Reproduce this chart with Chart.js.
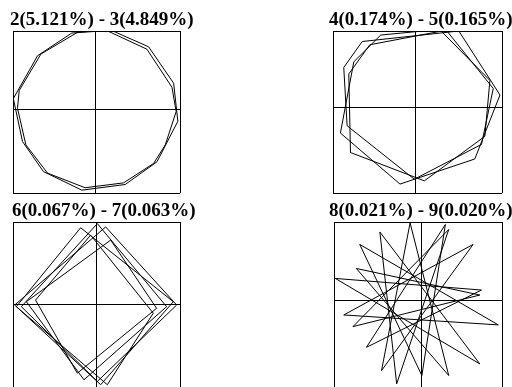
<!DOCTYPE html>
<html>
<head>
<meta charset="utf-8">
<script src="https://cdn.jsdelivr.net/npm/chart.js@4/dist/chart.umd.min.js"></script>
<style>
    html, body { margin: 0; padding: 0; background: #fff; overflow: hidden; }
    body { width: 512px; height: 387px; position: relative; }
    canvas { position: absolute; }
</style>
</head>
<body>
<canvas id="modos23" width="200" height="196" style="left:10px;top:0px"></canvas>
<canvas id="modos45" width="190" height="196" style="left:329px;top:0px"></canvas>
<canvas id="modos67" width="200" height="200" style="left:12px;top:191px"></canvas>
<canvas id="modos89" width="190" height="200" style="left:329px;top:191px"></canvas>
<script>
//TITULOS DE CADA PAR DE MODOS
var titulos = [
    '2(5.121%) - 3(4.849%)',
    '4(0.174%) - 5(0.165%)',
    '6(0.067%) - 7(0.063%)',
    '8(0.021%) - 9(0.020%)'
];

//coeficientes del par 2-3 (dos vueltas casi iguales)
var par23X = [-0.22, 0.17, 0.63, 0.93, 0.98, 0.73, 0.35, -0.17, -0.63, -0.88, -0.99, -0.70,
    -0.29, 0.13, 0.61, 0.91, 0.96, 0.83, 0.69, 0.33, -0.13, -0.58, -0.84, -0.94, -0.92, -0.66, -0.22];
var par23Y = [0.96, 0.99, 0.78, 0.33, -0.14, -0.64, -0.92, -0.99, -0.76, -0.39, 0.14, 0.67,
    0.95, 0.98, 0.75, 0.28, -0.02, -0.43, -0.66, -0.90, -0.96, -0.78, -0.43, 0.02, 0.24, 0.69, 0.96];

//coeficientes del par 4-5
var par45X = [-0.64, 0.51, 1.00, 0.70, -0.19, -0.90, -0.74,
    -0.42, 0.28, 0.88, 0.82, 0.10, -0.78, -0.80,
    -0.55, 0.36, 0.92, 0.78, -0.02, -0.82, -0.86, -0.64];
var par45Y = [0.82, 0.95, 0.16, -0.63, -0.94, -0.31, 0.57,
    0.90, 0.97, 0.34, -0.35, -0.90, -0.55, 0.42,
    0.78, 0.96, 0.24, -0.45, -0.88, -0.22, 0.50, 0.82];

//coeficientes del par 6-7 (cuadrados girando)
var par67X = [-0.19, 0.92, 0.05, -0.98, 0.11, 0.96, 0.01, -0.90, 0.01, 0.84, -0.15, -0.84,
    0.17, 0.72, -0.23, -0.73, -0.07, 0.68, 0.13, -0.96, -0.19];
var par67Y = [0.93, 0.03, -0.98, -0.01, 0.94, -0.01, -0.94, -0.03, 0.98, -0.03, -0.92, 0.03,
    0.78, -0.05, -0.84, 0.05, 0.84, -0.11, -0.98, -0.03, 0.93];

//coeficientes del par 8-9 (estrella)
var par89X = [0.70, -0.77, 0.33, -0.13, -0.47, 0.62, -0.92, 0.92, -0.73, 0.01, 0.29, -0.65,
    0.72, -1.02, 0.70, -0.49, -0.29, 0.33, -0.81, 0.70];
var par89Y = [0.06, 0.38, -0.91, 0.93, -0.85, 0.67, -0.18, -0.30, 0.67, -0.91, 0.91, -0.57,
    0.12, 0.26, -0.77, 0.82, -1.01, 0.85, -0.32, 0.06];

//rangos de los ejes (el cero no siempre queda al centro)
var rangos = [
    { x: [-0.994, 1.006], y: [-1.025, 0.975] },
    { x: [-0.988, 1.024], y: [-1.05, 0.95] },
    { x: [-1.0, 1.0], y: [-1.02, 1.0] },
    { x: [-1.036, 0.964], y: [-1.06, 0.94] }
];

var fuente = "'Liberation Serif', 'Times New Roman', serif";

//solo lineas en el minimo, el cero y el maximo: caja + cruz
function marcas(escala) {
    escala.ticks = [{ value: escala.min }, { value: 0 }, { value: escala.max }];
}

function crearPanel(idCanvas, titulo, datosX, datosY, rango, margenIzq, margenDer) {
    var puntos = datosX.map(function (x, i) {
        return { x: x, y: datosY[i] };
    });
    var ctx = document.getElementById(idCanvas).getContext('2d');

    return new Chart(ctx, {
        type: 'scatter',
        data: {
            datasets: [{
                data: puntos,
                showLine: true,
                borderColor: '#000',
                borderWidth: 1,
                pointRadius: 0,
                tension: 0
            }]
        },
        options: {
            responsive: false,
            animation: false,
            devicePixelRatio: 1,
            layout: { padding: { left: 0, right: 0, top: 0, bottom: 3 } },
            plugins: {
                legend: { display: false },
                tooltip: { enabled: false },
                title: {
                    display: true,
                    text: titulo,
                    align: 'start',
                    color: '#000',
                    font: { family: fuente, size: 19, weight: 'bold', lineHeight: 1 },
                    padding: { top: 10.5, bottom: 1.5 }
                }
            },
            scales: {
                x: {
                    type: 'linear',
                    min: rango.x[0],
                    max: rango.x[1],
                    ticks: { display: false },
                    grid: { color: '#000', lineWidth: 1, drawTicks: false },
                    border: { display: false },
                    afterBuildTicks: marcas
                },
                y: {
                    type: 'linear',
                    min: rango.y[0],
                    max: rango.y[1],
                    ticks: { display: false },
                    grid: { color: '#000', lineWidth: 1, drawTicks: false },
                    border: { display: false },
                    afterBuildTicks: marcas,
                    afterFit: function (escala) { escala.width = margenIzq; }
                },
                //espacio a la derecha para que el titulo quepa
                derecha: {
                    type: 'linear',
                    axis: 'y',
                    position: 'right',
                    ticks: { display: false },
                    grid: { display: false },
                    border: { display: false },
                    afterFit: function (escala) { escala.width = margenDer; }
                }
            }
        }
    });
}

crearPanel('modos23', titulos[0], par23X, par23Y, rangos[0], 3, 30);
crearPanel('modos45', titulos[1], par45X, par45Y, rangos[1], 4, 17);
crearPanel('modos67', titulos[2], par67X, par67Y, rangos[2], 1, 32);
crearPanel('modos89', titulos[3], par89X, par89Y, rangos[3], 5, 17);
</script>
</body>
</html>
